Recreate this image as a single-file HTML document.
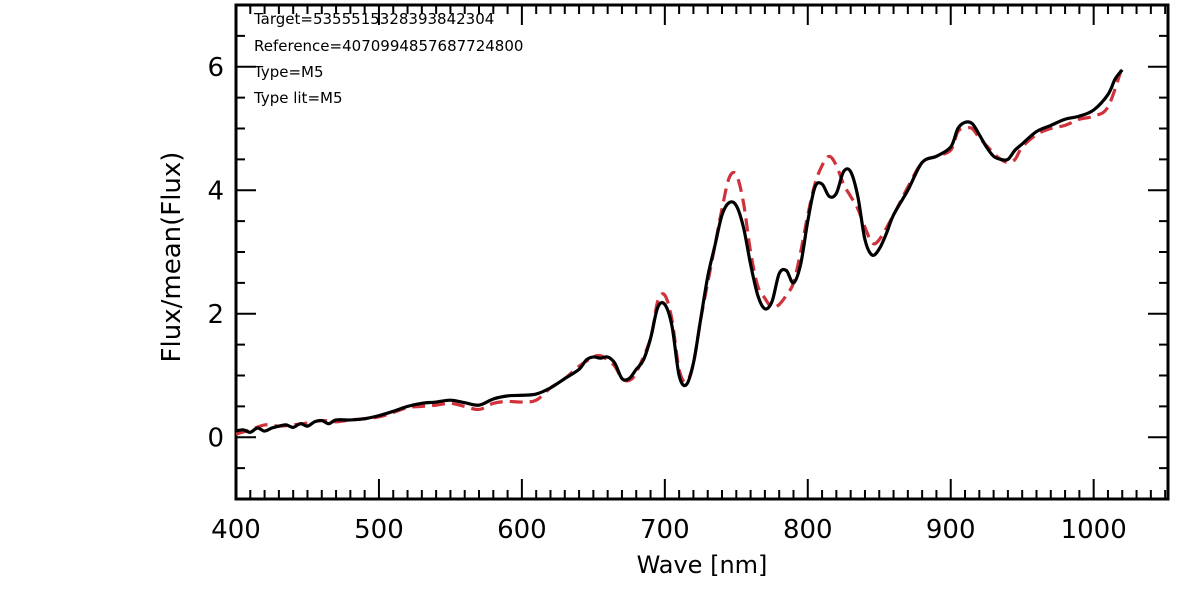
<!DOCTYPE html>
<html><head><meta charset="utf-8"><style>
body{margin:0;background:#fff;}
svg text{font-family:"DejaVu Sans","Liberation Sans",sans-serif;fill:#000;}
</style></head><body>
<svg id="chart" width="1180" height="590" xmlns="http://www.w3.org/2000/svg">
<g id="axes"></g>
<g id="series"></g>
<g font-size="15">
<text x="254" y="24">Target=5355515328393842304</text>
<text x="254" y="51">Reference=4070994857687724800</text>
<text x="254" y="77">Type=M5</text>
<text x="254" y="103">Type lit=M5</text>
</g>
<text x="702" y="573" font-size="24" text-anchor="middle">Wave [nm]</text>
<text transform="translate(180,257) rotate(-90)" font-size="26" text-anchor="middle">Flux/mean(Flux)</text>
</svg>
<script>
const xTicks=[400,500,600,700,800,900,1000];
const yTicks=[0,2,4,6];
const blackWave=[400,405,410,415,420,425,430,435,440,445,450,455,460,465,470,480,490,500,510,520,530,540,550,560,570,580,590,600,610,620,630,640,645,650,655,660,665,670,675,680,685,690,695,700,705,710,715,720,725,730,735,740,745,750,755,760,765,770,775,780,785,790,795,800,805,810,815,820,825,830,835,840,845,850,855,860,870,880,890,900,905,910,915,920,925,930,935,940,945,950,960,970,980,990,1000,1010,1015,1020];
const blackFlux=[0.1,0.12,0.08,0.15,0.1,0.15,0.18,0.2,0.16,0.22,0.18,0.25,0.27,0.22,0.28,0.28,0.3,0.35,0.42,0.5,0.55,0.57,0.6,0.56,0.52,0.62,0.67,0.68,0.7,0.8,0.95,1.1,1.25,1.3,1.28,1.3,1.2,0.95,0.95,1.1,1.25,1.6,2.1,2.15,1.8,1.0,0.85,1.2,1.9,2.6,3.1,3.6,3.8,3.75,3.4,2.8,2.3,2.08,2.2,2.65,2.7,2.5,2.8,3.5,4.05,4.1,3.9,3.95,4.3,4.3,3.9,3.2,2.95,3.05,3.3,3.6,4.0,4.45,4.55,4.7,5.0,5.1,5.08,4.9,4.7,4.55,4.5,4.5,4.65,4.75,4.95,5.05,5.15,5.2,5.3,5.55,5.8,5.95];
const redWave=[400,410,420,430,440,450,460,470,480,490,500,510,520,530,540,550,560,570,580,590,600,610,620,630,640,650,655,660,665,670,675,680,690,695,700,705,710,715,720,725,730,735,740,745,750,755,760,765,770,775,780,785,790,795,800,805,810,815,820,825,830,835,840,845,850,860,870,880,890,900,905,910,915,920,930,935,940,945,950,960,970,980,990,1000,1010,1020];
const redFlux=[0.05,0.12,0.2,0.18,0.2,0.23,0.27,0.25,0.28,0.3,0.33,0.4,0.48,0.5,0.52,0.55,0.5,0.45,0.55,0.58,0.57,0.6,0.8,0.95,1.15,1.3,1.32,1.25,1.15,0.95,0.92,1.05,1.6,2.2,2.3,1.9,1.1,0.9,1.2,1.9,2.5,3.1,3.7,4.2,4.25,3.8,3.0,2.45,2.25,2.1,2.15,2.3,2.5,3.0,3.6,4.1,4.4,4.55,4.4,4.1,3.9,3.7,3.4,3.15,3.2,3.6,4.05,4.45,4.55,4.65,4.95,5.0,5.0,4.85,4.6,4.5,4.45,4.5,4.7,4.9,5.0,5.05,5.15,5.2,5.35,6.0];
const L=236,R=1168,T=5,B=499,X0=400,X1=1052,Y0=-1,Y1=7;
const sx=v=>L+(v-X0)/(X1-X0)*(R-L);
const sy=v=>B-(v-Y0)/(Y1-Y0)*(B-T);
const NS="http://www.w3.org/2000/svg";
function mk(tag,attrs,parent){const e=document.createElementNS(NS,tag);for(const k in attrs)e.setAttribute(k,attrs[k]);parent.appendChild(e);return e;}
const ax=document.getElementById('axes');
const frame=mk('rect',{x:L,y:T,width:R-L,height:B-T,fill:'none',stroke:'#000','stroke-width':3},ax);


for(let v=400;v<=1050;v+=10){const maj=v%100===0;const len=maj?20:9;
 const t1=mk('line',{x1:sx(v),x2:sx(v),y1:B,y2:B-len,stroke:'#000','stroke-width':2},ax);
 
 
 const t2=mk('line',{x1:sx(v),x2:sx(v),y1:T,y2:T+len,stroke:'#000','stroke-width':2},ax);
 
 }
xTicks.forEach(v=>{const t=mk('text',{x:sx(v),y:538,'font-size':26,'text-anchor':'middle'},ax);t.textContent=v;
 
 });
for(let v=-1;v<=7;v+=0.5){const maj=Math.abs(v%2)===0;const len=maj?20:9;
 const t1=mk('line',{x1:L,x2:L+len,y1:sy(v),y2:sy(v),stroke:'#000','stroke-width':2},ax);
 
 
 const t2=mk('line',{x1:R,x2:R-len,y1:sy(v),y2:sy(v),stroke:'#000','stroke-width':2},ax);
 
 }
yTicks.forEach(v=>{const t=mk('text',{x:224,y:sy(v)+9,'font-size':26,'text-anchor':'end'},ax);t.textContent=v;
 
 });
function path(xs,ys){const p=xs.map((x,i)=>[sx(x),sy(ys[i])]);let d='M'+p[0][0]+','+p[0][1];
 for(let i=0;i<p.length-1;i++){const p0=p[i-1]||p[i],p1=p[i],p2=p[i+1],p3=p[i+2]||p2;
  const c1=[p1[0]+(p2[0]-p0[0])/6,p1[1]+(p2[1]-p0[1])/6],c2=[p2[0]-(p3[0]-p1[0])/6,p2[1]-(p3[1]-p1[1])/6];
  d+=' C'+c1[0]+','+c1[1]+' '+c2[0]+','+c2[1]+' '+p2[0]+','+p2[1];}return d;}
const sg=document.getElementById('series');
const rl=mk('path',{d:path(redWave,redFlux),fill:'none',stroke:'#d0323c','stroke-width':3.2,'stroke-dasharray':'13,7'},sg);


const bl=mk('path',{d:path(blackWave,blackFlux),fill:'none',stroke:'#000','stroke-width':3.2},sg);


</script>
</body></html>
